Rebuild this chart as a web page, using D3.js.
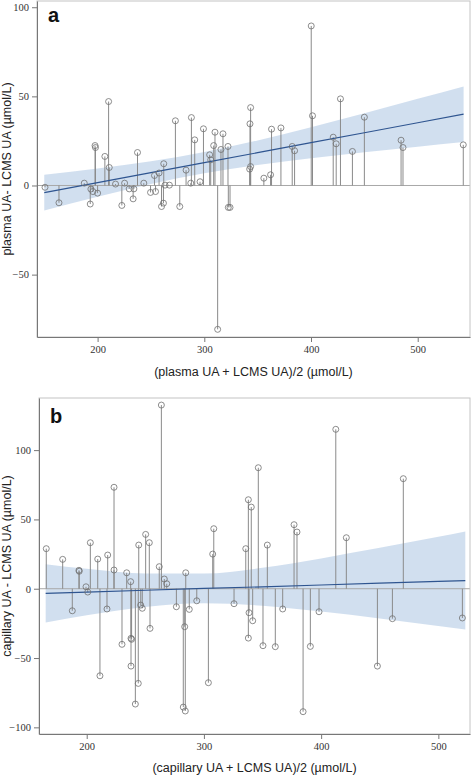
<!DOCTYPE html>
<html><head><meta charset="utf-8">
<script src="https://cdn.jsdelivr.net/npm/d3@7"></script>
<style>
html,body{margin:0;padding:0;background:#fff;}
svg{display:block;}
</style></head>
<body>
<svg id="chart" width="472" height="775"></svg>
<script>
// ---------- Panel a data: mean (x) and difference (y) ----------
const aMean = [150.7,163.8,187.5,193.1,193.7,195.6,197.6,198.0,200,206.8,210.3,210.9,216.8,222.7,225.3,229.6,233.3,234,237.4,243.3,249.6,253.3,254.3,257.6,259.9,261.7,262,263.2,267.3,272.9,277,282.9,287.3,287.9,291,296,299.2,305,306,308.8,310,312.5,315.6,317.5,322.2,322.5,324.1,342.5,342.8,343.4,343.4,355.8,362.1,363,371.8,382.4,384.6,400.2,401.4,420.8,423.6,427.6,438.8,450,484.4,486.2,542.7];
const aDiff = [-1,-9.7,1.3,-10.4,-2,-3.4,22.4,21.3,-4.3,16.3,47.1,10.1,0.8,-11.2,1.3,-1.9,-7.5,-1.9,18.5,1.3,-3.9,5.6,-3.4,7,-11.8,-9.9,12.2,0.2,0.2,36.3,-11.8,8.6,1.3,38.1,25.6,2.1,31.8,17.2,14.4,22.4,29.9,-80.7,20.2,29,21.9,-12.3,-12.3,9.2,34.6,43.7,10.6,4.1,6,31.6,32.3,21.9,19.5,89.5,39.1,27.1,23.4,48.6,19.1,38.3,25.4,21.3,22.8];
// regression line + confidence band (read at several x positions)
const aBandX     = [150, 200, 250, 300, 350, 400, 450, 500, 543];
const aBandLine  = [-4, 1.6, 7.2, 12.8, 18.4, 24, 29.6, 35.2, 40];
const aBandLower = [-14, -6.3, 0.8, 6.8, 11.5, 15.3, 18.7, 21.8, 24.4];
const aBandUpper = [6, 9.5, 13.6, 18.8, 25.3, 32.7, 40.5, 48.6, 55.6];
const aXTicks = [200, 300, 400, 500];
const aYTicks = [-50, 0, 50, 100];

// ---------- Panel b data ----------
const bMean = [165.5,179.5,187.7,193.4,193.6,199.4,200.9,203.1,209.4,211.3,217.3,217.9,223.3,223.3,230.1,234.1,237.5,237.8,238.3,237.8,241.5,244,244.4,246.1,247.4,250.3,253.4,254,261.9,263.7,266.2,268.3,276.5,282.4,283.6,284.1,284.5,287.5,293.9,303.8,307.5,308.4,325.7,335.7,337.9,337.9,338.5,340.4,341.6,346.4,350.4,354.1,360.9,367.2,376.9,379.4,384.6,390.8,398.2,412.5,421.5,448,460.8,470.1,520.5];
const bDiff = [28.9,21.2,-15.9,13.3,12.6,1.4,-2.4,33.2,21.4,-62.8,-14.6,24.3,73.2,13.5,-40.1,11.5,5.1,-35.8,-36.5,-55.8,-83.2,-68.3,31.5,-11.8,-14.1,39.2,33.2,-28.6,15.9,132.5,7,3.6,-13,-85.4,-27.4,-88.2,11.5,-14.9,-8.7,-67.8,25,43.3,-10.8,28.9,64.2,-35.6,-17.3,58.9,-23.1,87.3,-41.1,31.5,-41.8,-14.6,46.2,40.9,-88.7,-41.6,-16.6,115,36.8,-55.8,-21.6,79.4,-21.1];
const bBandX     = [165, 200, 250, 300, 350, 400, 450, 500, 523];
const bBandLine  = [-3.3, -2.4, -1.1, 0.2, 1.4, 2.7, 4.0, 5.3, 5.9];
const bBandLower = [-24.3, -19.2, -13.2, -10.5, -12.3, -16.5, -21.5, -26.9, -29.5];
const bBandUpper = [17.7, 14.4, 11, 10.9, 15.1, 21.9, 29.5, 37.5, 41.3];
const bXTicks = [200, 300, 400, 500];
const bYTicks = [-100, -50, 0, 50, 100];

const svg = d3.select("#chart");

function panel(o) {
  const x = d3.scaleLinear().domain(o.xDom).range([o.left, o.right]);
  const y = d3.scaleLinear().domain(o.yDom).range([o.bottom, o.top]);
  const g = svg.append("g");

  // confidence band
  const band = o.bandX.map((v, i) => ({x: v, lo: o.bandLo[i], hi: o.bandHi[i], m: o.bandLine[i]}));
  g.append("path")
    .datum(band)
    .attr("d", d3.area().x(d => x(d.x)).y0(d => y(d.lo)).y1(d => y(d.hi)).curve(d3.curveMonotoneX))
    .attr("fill", "#c9d9ec").attr("opacity", 0.85);

  // zero line
  g.append("line")
    .attr("x1", o.left).attr("x2", o.right)
    .attr("y1", y(0)).attr("y2", y(0))
    .attr("stroke", "#a8a8a8").attr("stroke-width", 1);

  const pts = o.mean.map((v, i) => ({x: v, y: o.diff[i]}));
  // stems
  g.selectAll("line.stem").data(pts).enter().append("line")
    .attr("class", "stem")
    .attr("x1", d => x(d.x)).attr("x2", d => x(d.x))
    .attr("y1", y(0)).attr("y2", d => y(d.y))
    .attr("stroke", "#8a8a8a").attr("stroke-width", 1);

  // regression line
  g.append("path")
    .datum(band)
    .attr("d", d3.line().x(d => x(d.x)).y(d => y(d.m)))
    .attr("fill", "none").attr("stroke", "#2f5590").attr("stroke-width", 1.2);

  // circles
  g.selectAll("circle").data(pts).enter().append("circle")
    .attr("cx", d => x(d.x)).attr("cy", d => y(d.y)).attr("r", 3)
    .attr("fill", "none").attr("stroke", "#707070").attr("stroke-width", 0.8);

  // frame
  g.append("rect")
    .attr("x", o.left).attr("y", o.top)
    .attr("width", o.right - o.left).attr("height", o.bottom - o.top)
    .attr("fill", "none").attr("stroke", "#c4c4c4").attr("stroke-width", 1);

  // axes
  const ya = g.append("g").attr("transform", `translate(${o.left},0)`)
    .call(d3.axisLeft(y).tickValues(o.yTicks).tickSize(5).tickSizeOuter(0).tickPadding(3));
  const xa = g.append("g").attr("transform", `translate(0,${o.bottom})`)
    .call(d3.axisBottom(x).tickValues(o.xTicks).tickSize(5).tickSizeOuter(0).tickPadding(4));
  [ya, xa].forEach(a => {
    a.select(".domain").attr("stroke", "#777");
    a.selectAll(".tick line").attr("stroke", "#777");
    a.selectAll(".tick text").attr("font-family", "'Liberation Serif', 'Times New Roman', serif")
      .attr("font-size", "10.5px").attr("fill", "#333");
  });

  // axis titles
  g.append("text")
    .attr("transform", `translate(${o.yTitleX},${(o.top + o.bottom) / 2}) rotate(-90)`)
    .attr("text-anchor", "middle")
    .attr("font-family", "'Liberation Sans', Arial, sans-serif").attr("font-size", "12.5px")
    .attr("fill", "#222").text(o.yTitle);
  g.append("text")
    .attr("x", (o.left + o.right) / 2).attr("y", o.xTitleY)
    .attr("text-anchor", "middle")
    .attr("font-family", "'Liberation Sans', Arial, sans-serif").attr("font-size", "12.5px")
    .attr("fill", "#222").text(o.xTitle);

  // panel letter
  g.append("text")
    .attr("x", o.left + 11).attr("y", o.top + o.letterDy)
    .attr("font-family", "'Liberation Sans', Arial, sans-serif").attr("font-size", "20px")
    .attr("font-weight", "bold").attr("fill", "#111").text(o.letter);
}

panel({
  left: 37, right: 470, top: 1, bottom: 337,
  xDom: [143.2, 549], yDom: [-85, 103.5],
  mean: aMean, diff: aDiff,
  bandX: aBandX, bandLo: aBandLower, bandHi: aBandUpper, bandLine: aBandLine,
  xTicks: aXTicks, yTicks: aYTicks,
  yTitle: "plasma UA- LCMS UA (µmol/L)", yTitleX: 11,
  xTitle: "(plasma UA + LCMS UA)/2 (µmol/L)", xTitleY: 376,
  letter: "a", letterDy: 21
});

panel({
  left: 39, right: 470, top: 398, bottom: 734,
  xDom: [159.3, 527], yDom: [-104.8, 137.6],
  mean: bMean, diff: bDiff,
  bandX: bBandX, bandLo: bBandLower, bandHi: bBandUpper, bandLine: bBandLine,
  xTicks: bXTicks, yTicks: bYTicks,
  yTitle: "capillary UA - LCMS UA (µmol/L)", yTitleX: 11,
  xTitle: "(capillary UA + LCMS UA)/2 (µmol/L)", xTitleY: 772,
  letter: "b", letterDy: 25
});
</script>
</body></html>
